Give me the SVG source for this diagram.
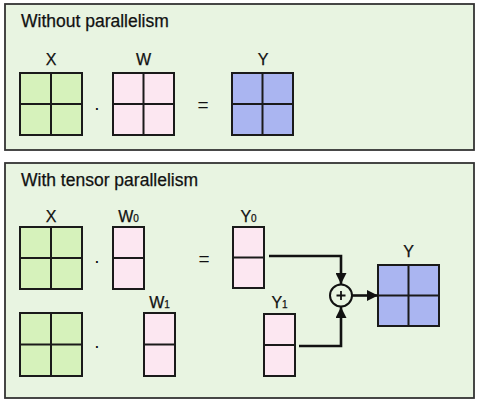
<svg xmlns="http://www.w3.org/2000/svg" width="481" height="404" viewBox="0 0 481 404">
<defs>
<style>
.panel{fill:#e8f4e1;stroke:#333;stroke-width:1.8}
.title{font-family:"Liberation Sans",Arial,sans-serif;font-size:17.5px;fill:#111;stroke:#111;stroke-width:0.25}
.lbl{font-family:"Liberation Sans",Arial,sans-serif;font-size:16px;fill:#111;text-anchor:middle;stroke:#111;stroke-width:0.25}
.sub{font-size:10px}
.op{font-family:"Liberation Sans",Arial,sans-serif;font-size:19px;fill:#111;text-anchor:middle}
.g{fill:#d6f2bb}
.p{fill:#fce7f1}
.b{fill:#aab5f1}
.cell{stroke:#1a1a1a;stroke-width:2}
.wire{fill:none;stroke:#111;stroke-width:2.6}
</style>
<marker id="ah" viewBox="0 0 10 10" refX="10" refY="5" markerWidth="11" markerHeight="11" markerUnits="userSpaceOnUse" orient="auto">
<path d="M0,0 L10,5 L0,10 z" fill="#111"/>
</marker>
</defs>

<g id="panel-top">
<rect class="panel" x="5" y="4" width="469" height="146"/>
<text class="title" x="21" y="27">Without parallelism</text>
</g>
<g id="panel-bottom">
<rect class="panel" x="5" y="163" width="469" height="235"/>
<text class="title" x="21" y="186">With tensor parallelism</text>
</g>

<g id="top-X">
<text class="lbl" x="51" y="65">X</text>
<rect class="g cell" x="20" y="73" width="62" height="62"/>
<path class="cell" d="M51,73 V135 M20,104 H82"/>
</g>
<g id="top-dot"><text class="op" x="97" y="114">·</text></g>
<g id="top-W">
<text class="lbl" x="143.5" y="65">W</text>
<rect class="p cell" x="113" y="73" width="61" height="62"/>
<path class="cell" d="M143.5,73 V135 M113,104 H174"/>
</g>
<g id="top-eq"><text class="op" x="203" y="111">=</text></g>
<g id="top-Y">
<text class="lbl" x="263" y="65">Y</text>
<rect class="b cell" x="232" y="73" width="61" height="62"/>
<path class="cell" d="M262.5,73 V135 M232,104 H293"/>
</g>

<g id="bot-X0">
<text class="lbl" x="51" y="222">X</text>
<rect class="g cell" x="20" y="227" width="62" height="62"/>
<path class="cell" d="M51,227 V289 M20,258 H82"/>
</g>
<g id="bot-dot0"><text class="op" x="97" y="267">·</text></g>
<g id="bot-W0">
<text class="lbl" x="128.5" y="222">W<tspan class="sub">0</tspan></text>
<rect class="p cell" x="113" y="227" width="31" height="62"/>
<path class="cell" d="M113,258 H144"/>
</g>
<g id="bot-eq"><text class="op" x="204" y="265">=</text></g>
<g id="bot-Y0">
<text class="lbl" x="248.5" y="222">Y<tspan class="sub">0</tspan></text>
<rect class="p cell" x="233" y="227" width="31" height="61"/>
<path class="cell" d="M233,257.5 H264"/>
</g>

<g id="bot-X1">
<rect class="g cell" x="20" y="313" width="62" height="63"/>
<path class="cell" d="M51,313 V376 M20,344.5 H82"/>
</g>
<g id="bot-dot1"><text class="op" x="97" y="352">·</text></g>
<g id="bot-W1">
<text class="lbl" x="159.5" y="308">W<tspan class="sub">1</tspan></text>
<rect class="p cell" x="144" y="313" width="31" height="63"/>
<path class="cell" d="M144,344.5 H175"/>
</g>
<g id="bot-Y1">
<text class="lbl" x="279.5" y="308">Y<tspan class="sub">1</tspan></text>
<rect class="p cell" x="264" y="314" width="31" height="62"/>
<path class="cell" d="M264,345 H295"/>
</g>

<g id="sum">
<circle cx="341" cy="295.5" r="11" fill="none" stroke="#111" stroke-width="2"/>
<path d="M341,291 V300 M336.5,295.5 H345.5" stroke="#111" stroke-width="1.8"/>
</g>

<g id="bot-Y">
<text class="lbl" x="408.5" y="257">Y</text>
<rect class="b cell" x="378" y="265" width="61" height="61"/>
<path class="cell" d="M408.5,265 V326 M378,295.5 H439"/>
</g>

<g id="connectors">
<path class="wire" d="M269,256 H341 V284" marker-end="url(#ah)"/>
<path class="wire" d="M299,346 H341 V307" marker-end="url(#ah)"/>
<path class="wire" d="M352,295.5 H378" marker-end="url(#ah)"/>
</g>
</svg>
